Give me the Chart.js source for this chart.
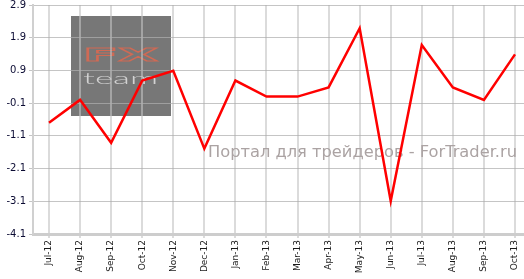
<!DOCTYPE html>
<html>
<head>
<meta charset="utf-8">
<script src="https://cdn.jsdelivr.net/npm/chart.js@4"></script>
<style>
  html, body { margin: 0; padding: 0; background: #fff; overflow: hidden; }
  #wrap { width: 524px; height: 279px; }
</style>
</head>
<body>
<div id="wrap"><canvas id="myChart" width="524" height="279"></canvas></div>
<script>
// data
const months = ['Jul-12', 'Aug-12', 'Sep-12', 'Oct-12', 'Nov-12', 'Dec-12', 'Jan-13', 'Feb-13',
    'Mar-13', 'Apr-13', 'May-13', 'Jun-13', 'Jul-13', 'Aug-13', 'Sep-13', 'Oct-13'];
const values = [-0.70, 0.0, -1.31, 0.59, 0.89, -1.49, 0.59, 0.10,
    0.10, 0.38, 2.19, -3.09, 1.68, 0.38, 0.0, 1.39];
const yTicks = [2.9, 1.9, 0.9, -0.1, -1.1, -2.1, -3.1, -4.1];

const watermark = {
    id: 'watermark',
    beforeDraw: (chart) => {
        const { ctx } = chart;
        ctx.save();
        // gray logo box
        ctx.fillStyle = '#777777';
        ctx.fillRect(71, 16, 100, 100);
        // "FX" outlined
        ctx.font = 'bold 30px "DejaVu Sans"';
        let w = ctx.measureText('FX').width;
        ctx.translate(83, 61);
        ctx.scale(75 / w, 13 / 21.9);
        ctx.strokeStyle = '#cf6a55';
        ctx.lineWidth = 1.6;
        ctx.strokeText('FX', 0, 0);
        ctx.restore();
        // "team"
        ctx.save();
        ctx.font = '300 15px Lato';
        w = ctx.measureText('team').width;
        ctx.translate(83, 84);
        ctx.scale(75 / w, 1);
        ctx.fillStyle = '#d2d2d2';
        ctx.fillText('team', 0, 0);
        ctx.restore();
    },
    beforeDatasetsDraw: (chart) => {
        const { ctx } = chart;
        const txt = 'Портал для трейдеров - ForTrader.ru';
        ctx.save();
        ctx.font = '16px "DejaVu Sans"';
        const w = ctx.measureText(txt).width;
        ctx.translate(208, 157);
        ctx.scale(309 / w, 1);
        ctx.fillStyle = '#aba3a3';
        ctx.fillText(txt, 0, 0);
        ctx.restore();
    }
};

const ctx = document.getElementById('myChart');
new Chart(ctx, {
    type: 'line',
    data: {
        datasets: [{
            data: values.map((v, i) => ({ x: i, y: v })),
            borderColor: '#ff0000',
            borderWidth: 2.5,
            pointRadius: 0,
            tension: 0,
            fill: false
        }]
    },
    options: {
        responsive: false,
        animation: false,
        layout: { padding: { top: 5, right: 0, left: 0, bottom: 0 } },
        plugins: {
            legend: { display: false },
            tooltip: { enabled: false }
        },
        scales: {
            x: {
                type: 'linear',
                min: -0.515,
                max: 15.29,
                afterBuildTicks: (scale) => {
                    scale.ticks = months.map((m, i) => ({ value: i }));
                },
                afterFit: (scale) => {
                    scale.height = 45;
                    scale.paddingLeft = 0;
                    scale.paddingRight = 0;
                },
                ticks: {
                    minRotation: 90,
                    maxRotation: 90,
                    autoSkip: false,
                    padding: 2,
                    color: '#1a1a1a',
                    font: { family: 'DejaVu Sans', size: 9 },
                    callback: (v) => months[v]
                },
                grid: {
                    color: 'rgba(195,195,195,0.6)',
                    lineWidth: 2,
                    tickLength: 4
                },
                border: { color: '#cdcdcd', width: 3 }
            },
            y: {
                min: -4.1,
                max: 2.9,
                afterBuildTicks: (scale) => {
                    scale.ticks = yTicks.map(v => ({ value: v }));
                },
                afterFit: (scale) => {
                    scale.width = 33;
                    scale.paddingTop = 0;
                    scale.paddingBottom = 0;
                },
                ticks: {
                    padding: 3,
                    color: '#0b0b33',
                    font: { family: 'DejaVu Sans', size: 10 },
                    callback: (v) => v.toFixed(1)
                },
                grid: {
                    color: 'rgba(175,175,175,0.72)',
                    lineWidth: 1,
                    tickLength: 4
                },
                border: { color: '#d0d0d0', width: 2 }
            }
        }
    },
    plugins: [watermark]
});
</script>
</body>
</html>
